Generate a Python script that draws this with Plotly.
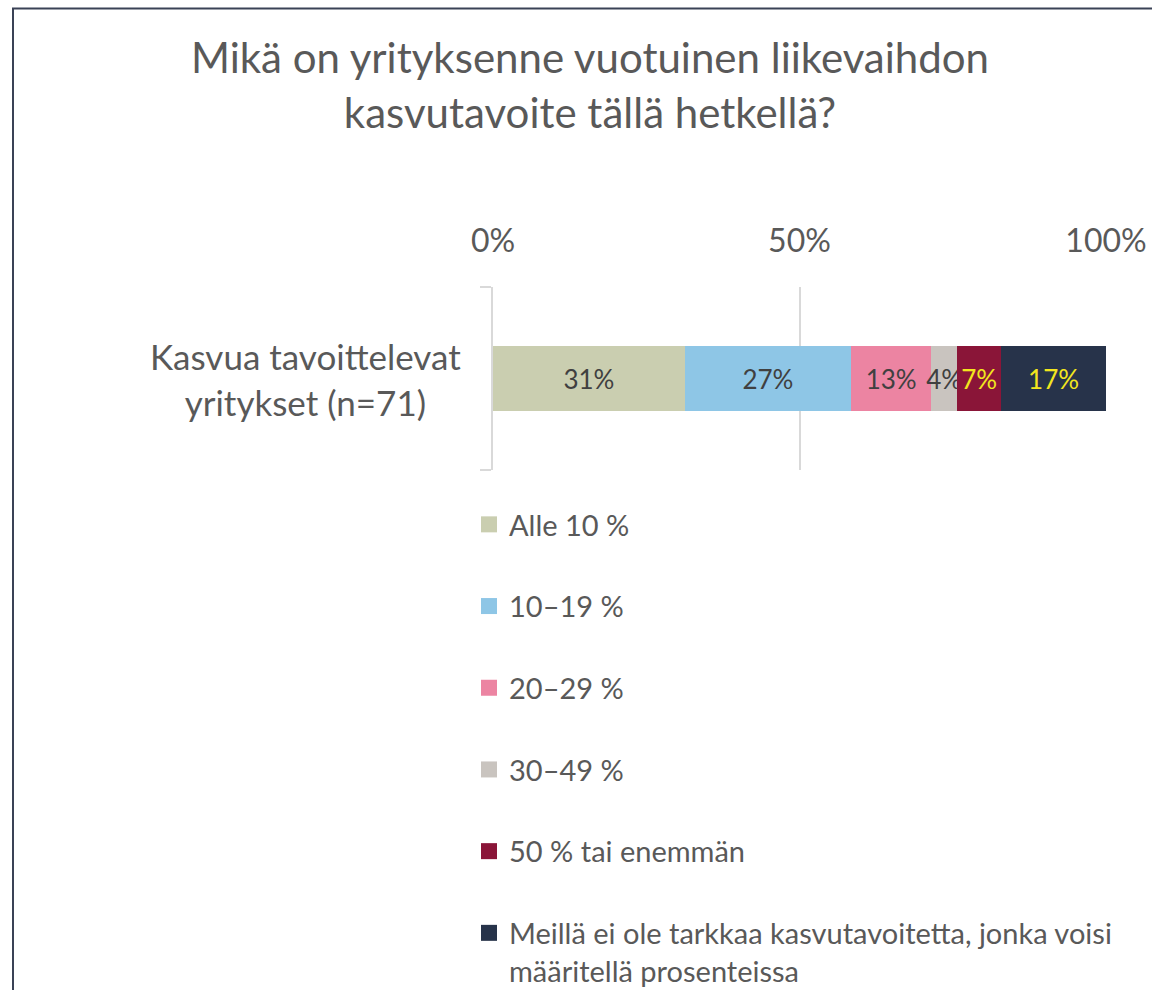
import plotly.graph_objects as go

title_text = "Mikä on yrityksenne vuotuinen liikevaihdon<br>kasvutavoite tällä hetkellä?"
category = "Kasvua tavoittelevat<br>yritykset (n=71)"
series_names = ["Alle 10 %", "10–19 %", "20–29 %", "30–49 %", "50 % tai enemmän",
                "Meillä ei ole tarkkaa kasvutavoitetta, jonka voisi<br>määritellä prosenteissa"]
values = [31.3, 27.1, 13.1, 4.2, 7.2, 17.1]
colors = ["#CACEB0", "#8EC6E6", "#EC84A2", "#C9C4BF", "#8A1538", "#27334A"]
label_colors = ["#404040", "#404040", "#404040", "#404040", "#F2E61E", "#F2E61E"]
tick_vals = [0, 50, 100]
tick_text = ["0%", "50%", "100%"]

FONT = "Lato"
W, H = 1152, 990
L, R, T, B = 493, 46, 287, 520
pw = W - L - R
ph = H - T - B
bottom = T + ph

fig = go.Figure()
for i, (name, v) in enumerate(zip(series_names, values)):
    fig.add_trace(go.Bar(
        x=[v], y=[category], orientation="h", name=name,
        marker=dict(color=colors[i], line=dict(width=0)),
        text=[v], texttemplate="%{x:.0f}%", textposition="inside", textangle=0,
        insidetextanchor="middle", constraintext="none",
        textfont=dict(family=FONT, size=26, color=label_colors[i]),
        showlegend=False, hoverinfo="skip",
    ))
    fig.add_trace(go.Scatter(
        x=[None], y=[None], mode="markers", name=name,
        marker=dict(symbol="square", size=16, color=colors[i]),
        legendgroup=f"g{i}", showlegend=True,
    ))

fig.update_layout(
    width=W, height=H,
    margin=dict(l=L, r=R, t=T, b=B, autoexpand=False),
    paper_bgcolor="white", plot_bgcolor="white",
    barmode="stack", bargap=0.645,
    title=dict(text=title_text, x=590 / W, xanchor="center", xref="container",
               y=1 - 73 / H, yanchor="top", yref="container",
               font=dict(family=FONT, size=42, color="#595959")),
    xaxis=dict(range=[0, 100], tickvals=tick_vals, ticktext=tick_text, side="top",
               showgrid=True, gridcolor="#D9D9D9", gridwidth=1.5, zeroline=False,
               showline=False, ticks="", ticklabelstandoff=28,
               tickfont=dict(family=FONT, size=32, color="#595959")),
    yaxis=dict(range=[-0.5, 0.5], type="category", showticklabels=False,
               showline=True, linecolor="#D9D9D9", linewidth=2,
               ticks="outside", tickson="boundaries", ticklen=11, tickcolor="#D9D9D9",
               tickwidth=2, showgrid=False, zeroline=False),
    legend=dict(x=(469 - L) / pw, xanchor="left", y=-(499 - bottom) / ph, yanchor="top",
                orientation="v", valign="top", tracegroupgap=41, maxheight=1000,
                font=dict(family=FONT, size=29, color="#595959"),
                bgcolor="rgba(0,0,0,0)"),
    annotations=[dict(text=category, xref="paper", yref="y", x=(305.5 - L) / pw, y=0,
                      xanchor="center", yanchor="middle", align="center", showarrow=False,
                      font=dict(family=FONT, size=35, color="#595959"))],
    shapes=[dict(type="rect", xref="paper", yref="paper",
                 x0=(13 - L) / pw, x1=(1180 - L) / pw,
                 y0=-(1020 - bottom) / ph, y1=(bottom - 8.5) / ph,
                 line=dict(color="#3A4256", width=2), fillcolor="rgba(0,0,0,0)", layer="above")],
)

fig.write_html("out.html", config={"displayModeBar": False},
               post_script="document.body.style.margin='0';document.body.style.overflow='hidden';")
